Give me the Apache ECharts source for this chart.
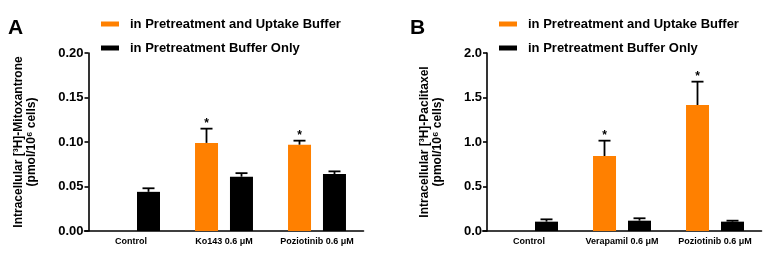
<!DOCTYPE html>
<html>
<head>
    <meta charset="utf-8">
    <title>Uptake</title>
    <script src="https://cdn.jsdelivr.net/npm/echarts@6/dist/echarts.min.js"></script>
</head>
<body style="margin:0;background:#fff">
    <div id="main" style="width: 768px;height:260px;"></div>
    <script type="text/javascript">
    // panel A: mitoxantrone
    var categoriesA = ['Control', 'Ko143 0.6 \u03bcM', 'Poziotinib 0.6 \u03bcM'];
    var bothA = [null, 0.099, 0.097];
    var bothErrA = [null, 0.016, 0.0045];
    var onlyA = [0.044, 0.061, 0.064];
    var onlyErrA = [0.004, 0.004, 0.003];
    var starA = [0, 1, 1];
    var ticksA = [0, 0.2, 0.05];

    // panel B: paclitaxel
    var categoriesB = ['Control', 'Verapamil 0.6 \u03bcM', 'Poziotinib 0.6 \u03bcM'];
    var bothB = [null, 0.843, 1.416];
    var bothErrB = [null, 0.172, 0.262];
    var onlyB = [0.105, 0.116, 0.105];
    var onlyErrB = [0.026, 0.027, 0.011];
    var starB = [0, 1, 1];
    var ticksB = [0, 2, 0.5];

    var nameBoth = 'in Pretreatment and Uptake Buffer';
    var nameOnly = 'in Pretreatment Buffer Only';
    var ORANGE = '#ff8000';
    var FONT = 'Arial, "Liberation Sans", sans-serif';

    function errItems(vals, errs, stars) {
        var out = [];
        vals.forEach(function (v, i) {
            if (v != null) out.push([i, v, errs[i], stars ? stars[i] : 0]);
        });
        return out;
    }

    function errRender(offset) {
        return function (params, api) {
            var i = api.value(0), m = api.value(1), e = api.value(2), s = api.value(3);
            var base = api.coord([i, m]);
            var top = api.coord([i, m + e]);
            var x = base[0] + offset;
            var st = { stroke: '#000', lineWidth: 1.8 };
            var kids = [
                { type: 'line', shape: { x1: x, y1: base[1], x2: x, y2: top[1] }, style: st },
                { type: 'line', shape: { x1: x - 6, y1: top[1], x2: x + 6, y2: top[1] }, style: st }
            ];
            if (s) {
                kids.push({ type: 'text', x: x, y: top[1] + 1,
                    style: { text: '*', align: 'center', verticalAlign: 'bottom',
                             font: 'bold 12px ' + FONT, fill: '#000' } });
            }
            return { type: 'group', children: kids };
        };
    }

    function xAxisFor(idx, cats) {
        return {
            type: 'category', gridIndex: idx, data: cats,
            axisLine: { lineStyle: { color: '#000', width: 1.6 } },
            axisTick: { alignWithLabel: true, length: 4, lineStyle: { color: '#000', width: 1.6 } },
            axisLabel: { color: '#000', fontWeight: 'bold', fontSize: 9, fontFamily: FONT, margin: 6, interval: 0 }
        };
    }

    function yAxisFor(idx, t, digits, name, gap, off) {
        return {
            type: 'value', gridIndex: idx, min: t[0], max: t[1], interval: t[2],
            offset: off,
            name: name, nameLocation: 'middle', nameRotate: 90, nameGap: gap,
            nameTextStyle: { color: '#000', fontWeight: 'bold', fontSize: 12, fontFamily: FONT, lineHeight: 13 },
            axisLine: { show: true, lineStyle: { color: '#000', width: 1.6 } },
            axisTick: { show: true, length: 4, lineStyle: { color: '#000', width: 1.6 } },
            axisLabel: { color: '#000', fontWeight: 'bold', fontSize: 13, fontFamily: FONT, margin: 5,
                         formatter: function (v) { return v.toFixed(digits); } },
            splitLine: { show: false }
        };
    }

    function legendAt(left) {
        return {
            orient: 'vertical', left: left, top: 17, padding: 0,
            itemWidth: 18, itemHeight: 5, itemGap: 10,
            icon: 'rect', selectedMode: false,
            data: [nameBoth, nameOnly],
            textStyle: { color: '#000', fontWeight: 'bold', fontSize: 13, fontFamily: FONT, lineHeight: 14, padding: [0, 0, 0, 6] }
        };
    }

    var myChart = echarts.init(document.getElementById('main'));
    var option = {
        animation: false,
        backgroundColor: '#fff',
        graphic: [
            { type: 'text', left: 8, top: 18, style: { text: 'A', font: 'bold 21px ' + FONT, fill: '#000' } },
            { type: 'text', left: 410, top: 18, style: { text: 'B', font: 'bold 21px ' + FONT, fill: '#000' } }
        ],
        legend: [legendAt(101), legendAt(499)],
        grid: [
            { left: 84.5, top: 53, width: 279, height: 178 },
            { left: 482.5, top: 53, width: 279, height: 178 }
        ],
        xAxis: [xAxisFor(0, categoriesA), xAxisFor(1, categoriesB)],
        yAxis: [
            yAxisFor(0, ticksA, 2, 'Intracellular [\u00b3H]-Mitoxantrone\n(pmol/10\u2076 cells)', 50, -4),
            yAxisFor(1, ticksB, 1, 'Intracellular [\u00b3H]-Paclitaxel\n(pmol/10\u2076 cells)', 43, -4.5)
        ],
        series: [
            { name: nameBoth, type: 'bar', xAxisIndex: 0, yAxisIndex: 0, data: bothA,
              barWidth: 23, barGap: '52%', itemStyle: { color: ORANGE } },
            { name: nameOnly, type: 'bar', xAxisIndex: 0, yAxisIndex: 0, data: onlyA,
              barWidth: 23, barGap: '52%', itemStyle: { color: '#000' } },
            { name: nameBoth, type: 'bar', xAxisIndex: 1, yAxisIndex: 1, data: bothB,
              barWidth: 23, barGap: '52%', itemStyle: { color: ORANGE } },
            { name: nameOnly, type: 'bar', xAxisIndex: 1, yAxisIndex: 1, data: onlyB,
              barWidth: 23, barGap: '52%', itemStyle: { color: '#000' } },
            { type: 'custom', xAxisIndex: 0, yAxisIndex: 0, renderItem: errRender(-17.5),
              data: errItems(bothA, bothErrA, starA), encode: { x: 0, y: 1 }, z: 5, silent: true },
            { type: 'custom', xAxisIndex: 0, yAxisIndex: 0, renderItem: errRender(17.5),
              data: errItems(onlyA, onlyErrA), encode: { x: 0, y: 1 }, z: 5, silent: true },
            { type: 'custom', xAxisIndex: 1, yAxisIndex: 1, renderItem: errRender(-17.5),
              data: errItems(bothB, bothErrB, starB), encode: { x: 0, y: 1 }, z: 5, silent: true },
            { type: 'custom', xAxisIndex: 1, yAxisIndex: 1, renderItem: errRender(17.5),
              data: errItems(onlyB, onlyErrB), encode: { x: 0, y: 1 }, z: 5, silent: true }
        ]
    };
    myChart.setOption(option);
    </script>
</body>
</html>
